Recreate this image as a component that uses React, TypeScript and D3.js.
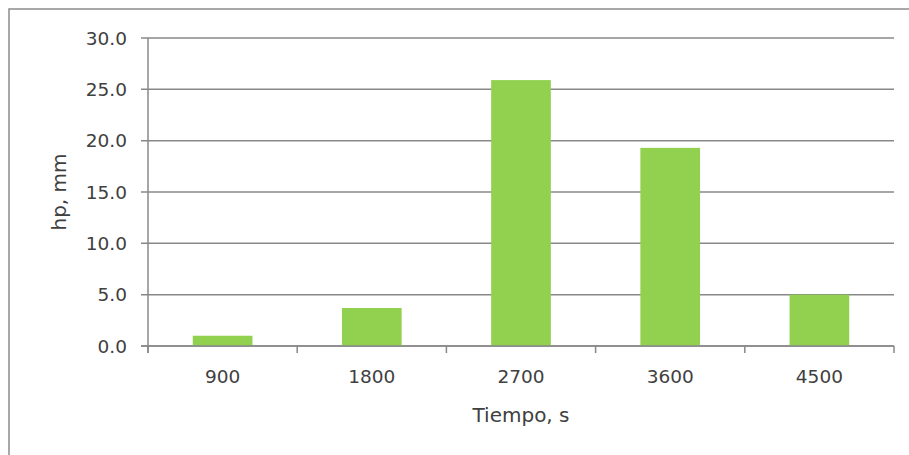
import React from "react";
import * as d3 from "d3";

const categories: string[] = ["900", "1800", "2700", "3600", "4500"];
const values: number[] = [1.0, 3.7, 25.9, 19.3, 5.0];
const yTicks: number[] = [0, 5, 10, 15, 20, 25, 30];
const xTitle = "Tiempo, s";
const yTitle = "hp, mm";

const W = 909;
const H = 455;
const left = 148;
const right = 894;
const top = 38;
const bottom = 346;
const font = "'DejaVu Sans', sans-serif";
const textColor = "#404040";
const lineColor = "#888888";

export default function App() {
  const x = d3
    .scaleBand<string>()
    .domain(categories)
    .range([left, right])
    .paddingInner(0.6)
    .paddingOuter(0.3);
  const y = d3.scaleLinear().domain([0, 30]).range([bottom, top]);
  const step = x.step();
  const tickXs = d3.range(categories.length + 1).map((i) => left + i * step);

  return (
    <svg
      width={W}
      height={H}
      style={{ position: "absolute", left: 0, top: 0, background: "#fff" }}
    >
      <rect x={9} y={9} width={W} height={H} fill="#fff" stroke="#8c8c8c" strokeWidth={1.5} />
      {yTicks.map((t) => (
        <g key={t}>
          <line x1={left - 7} x2={right} y1={y(t)} y2={y(t)} stroke={lineColor} strokeWidth={1.5} />
          <text
            x={127}
            y={y(t)}
            dy="0.36em"
            textAnchor="end"
            fontFamily={font}
            fontSize={18.5}
            fill={textColor}
          >
            {t.toFixed(1)}
          </text>
        </g>
      ))}
      {categories.map((c, i) => (
        <rect
          key={c}
          x={x(c)}
          y={y(values[i])}
          width={x.bandwidth()}
          height={y(0) - y(values[i])}
          fill="#92D050"
        />
      ))}
      <line x1={left} x2={left} y1={top} y2={bottom + 7} stroke={lineColor} strokeWidth={1.5} />
      <line x1={left - 7} x2={right} y1={bottom} y2={bottom} stroke={lineColor} strokeWidth={1.5} />
      {tickXs.map((tx, i) => (
        <line key={i} x1={tx} x2={tx} y1={bottom} y2={bottom + 7} stroke={lineColor} strokeWidth={1.5} />
      ))}
      {categories.map((c) => (
        <text
          key={c}
          x={(x(c) as number) + x.bandwidth() / 2}
          y={383}
          textAnchor="middle"
          fontFamily={font}
          fontSize={18.5}
          fill={textColor}
        >
          {c}
        </text>
      ))}
      <text
        x={521}
        y={422}
        textAnchor="middle"
        fontFamily={font}
        fontSize={20}
        fill={textColor}
      >
        {xTitle}
      </text>
      <text
        transform={`translate(66, 192) rotate(-90)`}
        textAnchor="middle"
        fontFamily={font}
        fontSize={20}
        fill={textColor}
      >
        {yTitle}
      </text>
    </svg>
  );
}
